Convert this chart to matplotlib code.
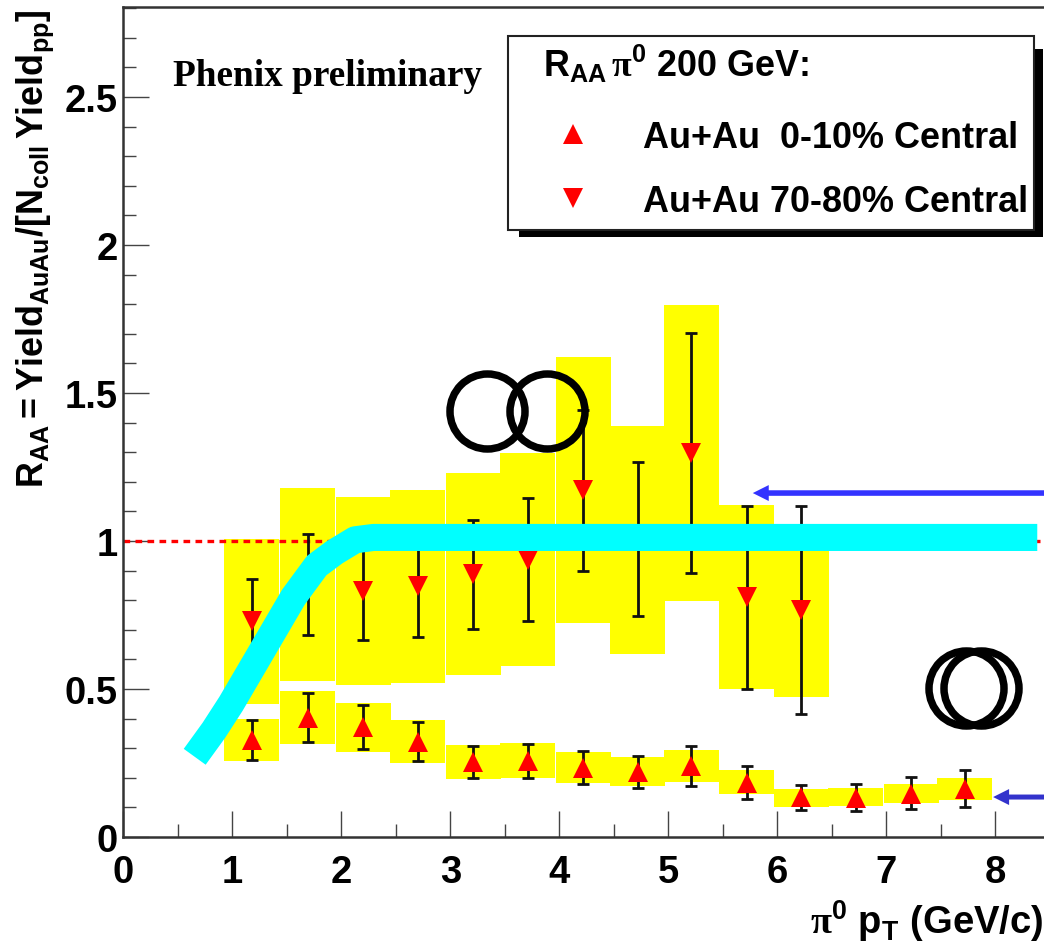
import numpy as np
import matplotlib
matplotlib.use("Agg")
import matplotlib.pyplot as plt
from matplotlib.patches import Rectangle

# pT bin centres
x_central = np.array([1.18, 1.69, 2.20, 2.70, 3.21, 3.71, 4.22, 4.72, 5.21, 5.72, 6.22, 6.72, 7.23, 7.72])
x_periph = np.array([1.18, 1.69, 2.20, 2.70, 3.21, 3.71, 4.22, 4.72, 5.21, 5.72, 6.22])

# Au+Au 0-10% central
y_central = np.array([0.327, 0.402, 0.370, 0.322, 0.253, 0.257, 0.234, 0.218, 0.239, 0.183, 0.134, 0.132, 0.146, 0.161])
err_hi_central = np.array([0.395, 0.486, 0.447, 0.389, 0.307, 0.314, 0.289, 0.272, 0.308, 0.241, 0.177, 0.180, 0.204, 0.228])
err_lo_central = np.array([0.260, 0.322, 0.297, 0.257, 0.200, 0.200, 0.180, 0.167, 0.171, 0.129, 0.091, 0.087, 0.095, 0.100])
sys_hi_central = np.array([0.400, 0.494, 0.454, 0.396, 0.311, 0.318, 0.288, 0.269, 0.294, 0.226, 0.162, 0.164, 0.180, 0.199])
sys_lo_central = np.array([0.257, 0.313, 0.288, 0.251, 0.196, 0.199, 0.181, 0.171, 0.185, 0.144, 0.102, 0.105, 0.115, 0.125])

# Au+Au 70-80% central
y_periph = np.array([0.730, 0.870, 0.832, 0.847, 0.890, 0.936, 1.172, 1.000, 1.298, 0.810, 0.767])
err_hi_periph = np.array([0.870, 1.024, 1.000, 1.020, 1.072, 1.146, 1.442, 1.268, 1.704, 1.119, 1.117])
err_lo_periph = np.array([0.540, 0.684, 0.665, 0.674, 0.704, 0.729, 0.900, 0.745, 0.892, 0.500, 0.416])
sys_hi_periph = np.array([1.007, 1.179, 1.150, 1.173, 1.230, 1.296, 1.620, 1.390, 1.797, 1.122, 1.050])
sys_lo_periph = np.array([0.449, 0.526, 0.513, 0.521, 0.548, 0.577, 0.723, 0.619, 0.798, 0.499, 0.474])

# thick cyan curve
x_curve = [0.655, 0.83, 0.988, 1.309, 1.56, 1.774, 1.942, 2.126, 2.294, 8.385]
y_curve = [0.271, 0.360, 0.450, 0.652, 0.810, 0.917, 0.963, 1.004, 1.012, 1.012]

# nuclei overlap sketches
x_rings = [3.334, 3.884, 7.73, 7.87]
y_rings = [1.44, 1.44, 0.503, 0.503]

W, H = 1044, 945
LEFT, BOTTOM, TOP = 123.3, 838.0, 8.0
px_x, px_y = 109.0, 296.0

plt.rcParams["font.family"] = ["Liberation Sans"]
plt.rcParams["font.weight"] = "bold"
plt.rcParams["mathtext.fontset"] = "custom"
plt.rcParams["mathtext.bf"] = "Liberation Sans:bold"
plt.rcParams["mathtext.rm"] = "Liberation Serif"
plt.rcParams["mathtext.sf"] = "Liberation Sans"
plt.rcParams["mathtext.it"] = "Liberation Sans:italic:bold"

fig = plt.figure(figsize=(W / 100, H / 100), dpi=100)
ax = fig.add_axes([LEFT / W, (H - BOTTOM) / H, (W - LEFT) / W, (BOTTOM - TOP) / H])
ax.set_xlim(0, (W - LEFT) / px_x)
ax.set_ylim(0, (BOTTOM - TOP) / px_y)

# systematic boxes
ax.bar(x_periph, sys_hi_periph - sys_lo_periph, bottom=sys_lo_periph, width=0.505, color="#ffff00", zorder=1)
ax.bar(x_central, sys_hi_central - sys_lo_central, bottom=sys_lo_central, width=0.505, color="#ffff00", zorder=1)

# unity line
ax.plot([0, 8.41], [1, 1], color="#ff0000", lw=2.4, dashes=(2.0, 1.6), zorder=2)

# statistical errors
for xs, ys, hi, lo in [(x_periph, y_periph, err_hi_periph, err_lo_periph),
                       (x_central, y_central, err_hi_central, err_lo_central)]:
    ax.errorbar(xs, ys, yerr=[ys - lo, hi - ys], fmt="none", ecolor="#111111",
                elinewidth=2.0, capsize=4, capthick=2.0, zorder=3)

ax.plot(x_periph, y_periph, "v", color="#ff0000", ms=15, mew=0, zorder=4)
ax.plot(x_central, y_central, "^", color="#ff0000", ms=15, mew=0, zorder=4)

ax.plot(x_curve, y_curve, color="#00ffff", lw=19.5, solid_capstyle="butt", solid_joinstyle="round", zorder=5)

ax.plot(x_rings, y_rings, "o", mfc="none", mec="k", ms=54, mew=5.4, ls="none", zorder=6)

# blue arrows running in from the right edge
ax.annotate("", xy=(5.775, 1.162), xytext=(8.7, 1.162), annotation_clip=False, zorder=7,
            arrowprops=dict(arrowstyle="simple,head_length=11.5,head_width=11.5,tail_width=4",
                            mutation_scale=1, fc="#3333ff", ec="none", lw=0, shrinkA=0, shrinkB=0))
ax.annotate("", xy=(7.98, 0.135), xytext=(8.7, 0.135), annotation_clip=False, zorder=7,
            arrowprops=dict(arrowstyle="simple,head_length=11.5,head_width=11.5,tail_width=3.6",
                            mutation_scale=1, fc="#3333cc", ec="none", lw=0, shrinkA=0, shrinkB=0))

# axes
ax.spines["right"].set_visible(False)
for side in ["left", "bottom", "top"]:
    ax.spines[side].set_linewidth(1.8)
    ax.spines[side].set_color("#333333")
ax.xaxis.set_major_locator(plt.MultipleLocator(1.0))
ax.xaxis.set_minor_locator(plt.MultipleLocator(0.5))
ax.yaxis.set_major_locator(plt.MultipleLocator(0.5))
ax.yaxis.set_minor_locator(plt.MultipleLocator(0.1))
ax.tick_params(which="major", direction="in", length=19, width=1.0, color="#444444", labelsize=27.5, pad=4)
ax.tick_params(which="minor", direction="in", length=9.5, width=1.0, color="#444444")
ax.tick_params(axis="x", which="major", pad=12)
ax.set_xticks(range(0, 9))
ax.set_xticklabels([str(i) for i in range(0, 9)])
ax.set_yticks([0, 0.5, 1, 1.5, 2, 2.5])
ax.set_yticklabels(["0", "0.5", "1", "1.5", "2", "2.5"])

fig.text(1044 / W, 1 - 921 / H, r"$\mathrm{\pi}^{\mathsf{0}}$ $\mathbf{p_T}$ (GeV/c)",
         ha="right", va="center", fontsize=27.5, fontweight="bold")
fig.text(35 / W, 1 - 249 / H, r"$\mathbf{R_{AA}{=}Yield_{AuAu}{/}[N_{coll}\,Yield_{pp}]}$",
         rotation=90, ha="center", va="center", fontsize=25.8)

fig.text(173 / W, 1 - 77 / H, "Phenix preliminary", family="Liberation Serif", fontweight="bold",
         fontsize=26.8, ha="left", va="center")

# legend box with offset shadow
shadow = Rectangle((519 / W, 1 - 238 / H), (1043 - 519) / W, (238 - 50) / H, transform=fig.transFigure,
                   fc="k", ec="none", zorder=8)
box = Rectangle((508 / W, 1 - 231 / H), (1034 - 508) / W, (231 - 37) / H, transform=fig.transFigure,
                fc="w", ec="#222222", lw=1.5, zorder=9)
ax.add_patch(shadow)
ax.add_patch(box)
ax.text(543 / W, 1 - 64 / H, r"$\mathbf{R_{AA}}\,\mathrm{\pi}^{\mathsf{0}}$ 200 GeV:", transform=fig.transFigure,
        fontsize=25.8, ha="left", va="center", zorder=10)
ax.plot([4.13], [2.375], "^", color="#ff0000", ms=15, mew=0, zorder=10, clip_on=False)
ax.plot([4.13], [2.159], "v", color="#ff0000", ms=15, mew=0, zorder=10, clip_on=False)
ax.text(643 / W, 1 - 138 / H, "Au+Au  0-10% Central", transform=fig.transFigure,
        fontsize=25.9, ha="left", va="center", zorder=10)
ax.text(643 / W, 1 - 203 / H, "Au+Au 70-80% Central", transform=fig.transFigure,
        fontsize=25.9, ha="left", va="center", zorder=10)

fig.savefig("out.png", dpi=100)
